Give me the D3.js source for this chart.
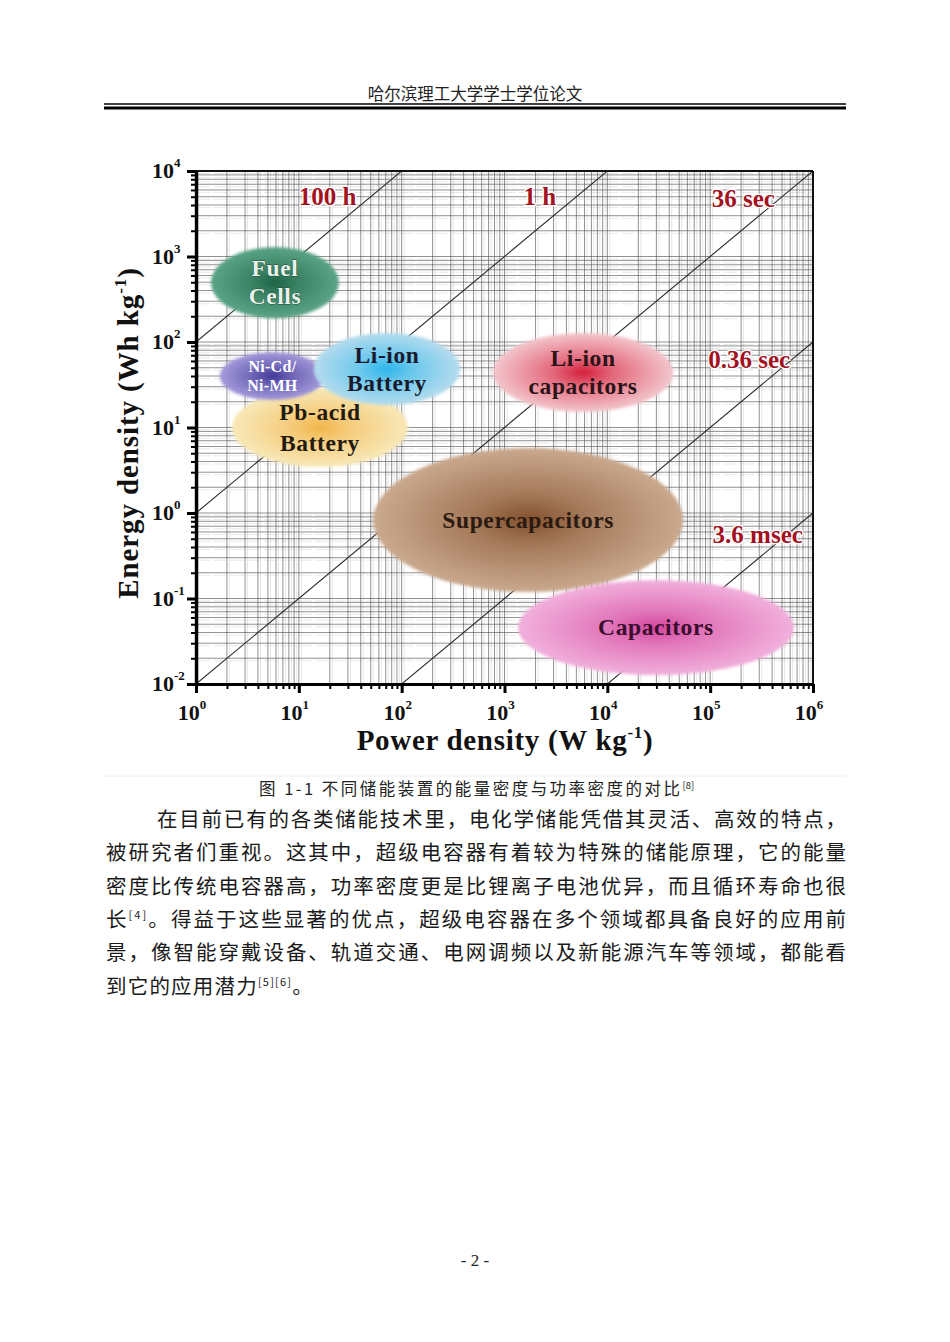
<!DOCTYPE html>
<html>
<head>
<meta charset="utf-8">
<script src="https://cdn.jsdelivr.net/npm/d3@7/dist/d3.min.js"></script>
<style>
  body { margin: 0; background: #fff; }
  svg { display: block; }
</style>
</head>
<body>
<div id="page"></div>
<script>
// ---- data ----
var xDomain = [1, 1e6];          // power density, W/kg
var yDomain = [1e-2, 1e4];       // energy density, Wh/kg
var xMajors = [1, 10, 100, 1e3, 1e4, 1e5, 1e6];
var yMajors = [1e-2, 1e-1, 1, 10, 100, 1e3, 1e4];
var xExponents = ["0", "1", "2", "3", "4", "5", "6"];
var yExponents = ["-2", "-1", "0", "1", "2", "3", "4"];

// discharge time lines E = t * P  (t in hours)
var timeHours = [100, 1, 0.01, 1e-4, 1e-6];
var timeLabels = ["100 h", "1 h", "36 sec", "0.36 sec", "3.6 msec"];
var timeLabelP = [19, 2200, 2.1e5, 2.4e5, 2.9e5];
var timeLabelE = [5000, 5000, 4700, 61, 0.55];

// device regions: extents in data units
var devices = ["Fuel Cells", "Pb-acid", "Ni-Cd/Ni-MH", "Li-ion Battery", "Li-ion capacitors", "Supercapacitors", "Capacitors"];
var devPmin = [1.4, 2.24, 1.7, 14, 774, 53, 1356];
var devPmax = [24.5, 115, 18, 370, 43600, 54600, 6.5e5];
var devEmin = [190, 3.45, 21, 18.3, 15.2, 0.119, 0.0127];
var devEmax = [1290, 29, 76, 127, 127, 5.75, 0.164];
var devText = [["Fuel", "Cells"], ["Pb-acid", "Battery"], ["Ni-Cd/", "Ni-MH"], ["Li-ion", "Battery"], ["Li-ion", "capacitors"], ["Supercapacitors"], ["Capacitors"]];
var devInner = ["#1d6446", "#f2b54a", "#3f3596", "#2bb6ea", "#d51f3c", "#83502c", "#d4479e"];
var devOuter = ["#5ba486", "#f8e8b8", "#a39ada", "#b5dcee", "#f3c6cc", "#caa98e", "#f1b0dc"];
var devInk = ["#e8f2ea", "#231a10", "#ffffff", "#1a1a2e", "#2a1418", "#2a1a12", "#3a0d2e"];

var bodyLines = [
  "在目前已有的各类储能技术里，电化学储能凭借其灵活、高效的特点，",
  "被研究者们重视。这其中，超级电容器有着较为特殊的储能原理，它的能量",
  "密度比传统电容器高，功率密度更是比锂离子电池优异，而且循环寿命也很",
  ["长", "[4]", "。得益于这些显著的优点，超级电容器在多个领域都具备良好的应用前"],
  "景，像智能穿戴设备、轨道交通、电网调频以及新能源汽车等领域，都能看",
  ["到它的应用潜力", "[5][6]", "。"]
];

// ---- page ----
var W = 950, H = 1342;
var cjk = "'Noto Sans CJK SC', sans-serif";
var serif = "'Liberation Serif', 'DejaVu Serif', serif";

var svg = d3.select("#page").append("svg").attr("width", W).attr("height", H);
svg.append("rect").attr("width", W).attr("height", H).attr("fill", "#fff");

// header
svg.append("text").attr("x", 475).attr("y", 100).attr("text-anchor", "middle")
  .attr("font-family", cjk).attr("font-size", 16.5).attr("fill", "#222")
  .text("哈尔滨理工大学学士学位论文");
svg.append("line").attr("x1", 104).attr("x2", 846).attr("y1", 104).attr("y2", 104)
  .attr("stroke", "#000").attr("stroke-width", 1.5);
svg.append("line").attr("x1", 104).attr("x2", 846).attr("y1", 108).attr("y2", 108)
  .attr("stroke", "#000").attr("stroke-width", 3);

// ---- chart ----
var x = d3.scaleLog().domain(xDomain).range([196, 813]);
var y = d3.scaleLog().domain(yDomain).range([684, 171]);

function minorsOf(domain) {
  var out = [];
  for (var d = domain[0]; d < domain[1]; d *= 10) {
    for (var k = 1; k < 10; k++) out.push(d * k);
  }
  out.push(domain[1]);
  return out;
}
var xMinor = minorsOf(xDomain), yMinor = minorsOf(yDomain);

var defs = svg.append("defs");
defs.append("clipPath").attr("id", "plotclip").append("rect")
  .attr("x", x(1)).attr("y", y(1e4)).attr("width", x(1e6) - x(1)).attr("height", y(1e-2) - y(1e4));
defs.append("filter").attr("id", "soft").attr("x", "-10%").attr("y", "-10%").attr("width", "120%").attr("height", "120%")
  .append("feGaussianBlur").attr("stdDeviation", 1.6);

var plot = svg.append("g").attr("clip-path", "url(#plotclip)");

// grid
plot.selectAll("line.gx").data(xMinor).join("line").attr("class", "gx")
  .attr("x1", d => x(d)).attr("x2", d => x(d)).attr("y1", y(1e4)).attr("y2", y(1e-2))
  .attr("stroke", "#444").attr("stroke-width", 0.9).attr("opacity", 0.65);
plot.selectAll("line.gx2").data(xMinor).join("line").attr("class", "gx2")
  .attr("x1", d => x(d) + 2.5).attr("x2", d => x(d) + 2.5).attr("y1", y(1e4)).attr("y2", y(1e-2))
  .attr("stroke", "#888").attr("stroke-width", 0.6).attr("opacity", 0.35);
plot.selectAll("line.gy").data(yMinor).join("line").attr("class", "gy")
  .attr("y1", d => y(d)).attr("y2", d => y(d)).attr("x1", x(1)).attr("x2", x(1e6))
  .attr("stroke", "#444").attr("stroke-width", 0.9).attr("opacity", 0.65);
plot.selectAll("line.gy2").data(yMinor).join("line").attr("class", "gy2")
  .attr("y1", d => y(d) + 2.5).attr("y2", d => y(d) + 2.5).attr("x1", x(1)).attr("x2", x(1e6))
  .attr("stroke", "#888").attr("stroke-width", 0.6).attr("opacity", 0.3)
  .attr("stroke-dasharray", "14,3");

// time lines
plot.selectAll("line.tl").data(timeHours).join("line").attr("class", "tl")
  .attr("x1", x(1)).attr("y1", t => y(t * 1))
  .attr("x2", x(1e6)).attr("y2", t => y(t * 1e6))
  .attr("stroke", "#2a2a2a").attr("stroke-width", 1.1);

// device ellipses
var devData = devices.map(function (name, i) {
  return {
    name: name, i: i,
    cx: (x(devPmin[i]) + x(devPmax[i])) / 2,
    cy: (y(devEmin[i]) + y(devEmax[i])) / 2,
    rx: (x(devPmax[i]) - x(devPmin[i])) / 2,
    ry: (y(devEmin[i]) - y(devEmax[i])) / 2
  };
});
devData.forEach(function (d) {
  var g = defs.append("radialGradient").attr("id", "grad" + d.i);
  g.append("stop").attr("offset", "0%").attr("stop-color", devInner[d.i]);
  g.append("stop").attr("offset", "35%").attr("stop-color", d3.interpolateRgb(devInner[d.i], devOuter[d.i])(0.45));
  g.append("stop").attr("offset", "100%").attr("stop-color", devOuter[d.i]);
});
var blobs = svg.append("g").selectAll("g").data(devData).join("g");
blobs.append("ellipse")
  .attr("cx", d => d.cx).attr("cy", d => d.cy).attr("rx", d => d.rx).attr("ry", d => d.ry)
  .attr("fill", d => "url(#grad" + d.i + ")").attr("filter", "url(#soft)");
blobs.each(function (d) {
  var lines = devText[d.i];
  var small = d.name === "Ni-Cd/Ni-MH";
  var fs = small ? 16 : 23.5;
  var lh = small ? 19 : (d.name === "Pb-acid" ? 31 : 28);
  var t = d3.select(this).append("text")
    .attr("text-anchor", "middle").attr("font-family", serif).attr("font-weight", "bold")
    .attr("font-size", fs).attr("letter-spacing", small ? 0.3 : 0.6).attr("fill", devInk[d.i]);
  if (d.name === "Fuel Cells") t.attr("stroke", "#214a36").attr("stroke-width", 0.8).attr("paint-order", "stroke");
  lines.forEach(function (s, k) {
    t.append("tspan").attr("x", d.cx)
      .attr("y", d.cy + (k - (lines.length - 1) / 2) * lh + fs * 0.33)
      .text(s);
  });
});

// time labels
svg.append("g").selectAll("text").data(timeLabels).join("text")
  .attr("x", (s, i) => x(timeLabelP[i])).attr("y", (s, i) => y(timeLabelE[i]) + 8)
  .attr("text-anchor", "middle").attr("font-family", serif).attr("font-weight", "bold")
  .attr("font-size", 25).attr("fill", "#a3121f")
  .attr("stroke", "#fff").attr("stroke-width", 2.5).attr("paint-order", "stroke").text(s => s);

// frame
svg.append("line").attr("x1", x(1)).attr("x2", x(1e6)).attr("y1", y(1e4)).attr("y2", y(1e4))
  .attr("stroke", "#111").attr("stroke-width", 2);
svg.append("line").attr("x1", x(1e6)).attr("x2", x(1e6)).attr("y1", y(1e4)).attr("y2", y(1e-2))
  .attr("stroke", "#111").attr("stroke-width", 2);

// axes
var xMinorOnly = xMinor.filter(v => xMajors.indexOf(v) < 0);
var yMinorOnly = yMinor.filter(v => yMajors.indexOf(v) < 0);
function styleAxis(g, w) {
  g.select(".domain").attr("stroke", "#000").attr("stroke-width", 3.2);
  g.selectAll(".tick line").attr("stroke", "#000").attr("stroke-width", w);
  g.selectAll(".tick text").remove();
}
svg.append("g").attr("transform", "translate(0," + y(1e-2) + ")")
  .call(d3.axisBottom(x).tickValues(xMinorOnly).tickSize(5).tickSizeOuter(0)).call(styleAxis, 2);
svg.append("g").attr("transform", "translate(0," + y(1e-2) + ")")
  .call(d3.axisBottom(x).tickValues(xMajors).tickSize(9).tickSizeOuter(0)).call(styleAxis, 3);
svg.append("g").attr("transform", "translate(" + x(1) + ",0)")
  .call(d3.axisLeft(y).tickValues(yMinorOnly).tickSize(5).tickSizeOuter(0)).call(styleAxis, 2);
svg.append("g").attr("transform", "translate(" + x(1) + ",0)")
  .call(d3.axisLeft(y).tickValues(yMajors).tickSize(9).tickSizeOuter(0)).call(styleAxis, 3);

// tick labels as 10^n
var xl = svg.append("g").selectAll("text").data(xMajors).join("text")
  .attr("x", d => x(d) - 4).attr("y", 720).attr("text-anchor", "middle")
  .attr("font-family", serif).attr("font-weight", "bold").attr("font-size", 22).attr("fill", "#111");
xl.append("tspan").text("10");
xl.append("tspan").attr("dy", -11).attr("font-size", 13).text((d, i) => xExponents[i]);

var yl = svg.append("g").selectAll("text").data(yMajors).join("text")
  .attr("x", 152).attr("y", d => y(d) + 7)
  .attr("font-family", serif).attr("font-weight", "bold").attr("font-size", 22).attr("fill", "#111");
yl.append("tspan").text("10");
yl.append("tspan").attr("dy", -11).attr("font-size", 13).text((d, i) => yExponents[i]);

// axis titles
var xt = svg.append("text").attr("x", 505).attr("y", 750).attr("text-anchor", "middle")
  .attr("font-family", serif).attr("font-weight", "bold").attr("font-size", 29)
  .attr("letter-spacing", 0.7).attr("fill", "#111");
xt.append("tspan").text("Power density (W kg");
xt.append("tspan").attr("dy", -12).attr("font-size", 17).text("-1");
xt.append("tspan").attr("dy", 12).text(")");

var yt = svg.append("text").attr("transform", "translate(138,433) rotate(-90)").attr("text-anchor", "middle")
  .attr("font-family", serif).attr("font-weight", "bold").attr("font-size", 29)
  .attr("letter-spacing", 0.9).attr("fill", "#111");
yt.append("tspan").text("Energy density (Wh kg");
yt.append("tspan").attr("dy", -12).attr("font-size", 17).text("-1");
yt.append("tspan").attr("dy", 12).text(")");

// ---- caption & body ----
svg.append("line").attr("x1", 104).attr("x2", 846).attr("y1", 776).attr("y2", 776)
  .attr("stroke", "#eeeeee").attr("stroke-width", 1);
var cap = svg.append("text").attr("x", 259).attr("y", 795)
  .attr("font-family", cjk).attr("font-size", 16.5).attr("fill", "#222");
cap.append("tspan").attr("textLength", 421).attr("lengthAdjust", "spacing")
  .text("图 1-1 不同储能装置的能量密度与功率密度的对比");
cap.append("tspan").attr("dy", -6).attr("font-size", 9.5).text("[8]");

bodyLines.forEach(function (ln, i) {
  var yy = 827 + i * 33.3;
  var left = i === 0 ? 157 : 106;
  var t = svg.append("text").attr("x", left).attr("y", yy)
    .attr("font-family", cjk).attr("font-size", 20.5).attr("fill", "#1a1a1a");
  if (i < 5) t.attr("textLength", 846 - left).attr("lengthAdjust", "spacing");
  else t.attr("letter-spacing", 1.2);
  if (typeof ln === "string") {
    t.text(ln);
  } else {
    t.append("tspan").text(ln[0]);
    t.append("tspan").attr("dy", -8).attr("font-size", 11).text(ln[1]);
    t.append("tspan").attr("dy", 8).text(ln[2]);
  }
});

// footer
svg.append("text").attr("x", 475).attr("y", 1266).attr("text-anchor", "middle")
  .attr("font-family", serif).attr("font-size", 17).attr("fill", "#222").text("- 2 -");
</script>
</body>
</html>
